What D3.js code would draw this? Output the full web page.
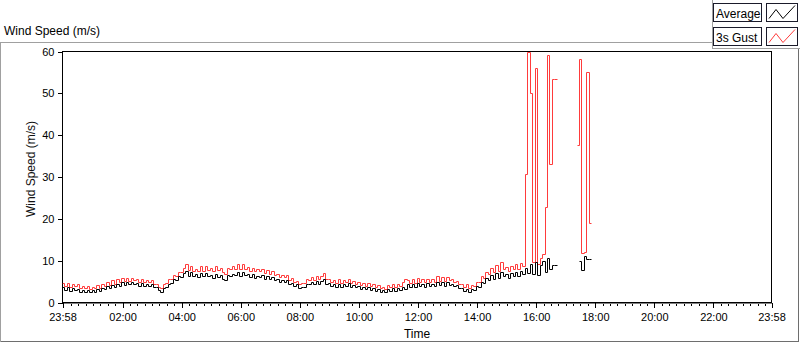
<!DOCTYPE html>
<html><head><meta charset="utf-8">
<script src="https://cdn.jsdelivr.net/npm/d3@7"></script>
<style>
body{margin:0;background:#fff}
svg{display:block;font-family:"Liberation Sans",Arial,sans-serif}
</style>
</head><body>
<svg id="chart" width="800" height="342"></svg>
<script>
// ---------- data ----------
const chartTitle = "Wind Speed (m/s)";
const yAxisTitle = "Wind Speed (m/s)";
const xAxisTitle = "Time";
const seriesNames = ["Average", "3s Gust"];
const seriesColors = ["#000000", "#ff3b3b"];
const sampleMinutes = 5;            // logger interval, first sample at 23:58
const yTicks = [0, 10, 20, 30, 40, 50, 60];
const xTickLabels = ["23:58","02:00","04:00","06:00","08:00","10:00","12:00","14:00","16:00","18:00","20:00","22:00","23:58"];

const avgSpeed = [
 3.6,2.9,3.5,2.7,3.3,2.8,3.1,2.4,2.9,2.5,
 2.9,2.3,2.8,2.5,3.1,2.6,3.3,3.0,3.9,3.3,
 4.1,3.5,4.3,3.9,4.7,4.0,4.8,4.2,4.7,4.3,
 4.5,3.9,4.6,3.8,4.4,3.9,4.3,3.6,3.5,2.9,
 2.5,3.4,3.6,4.4,4.5,5.4,5.2,6.1,6.0,7.0,
 7.4,6.3,7.1,6.2,6.6,5.9,6.9,6.1,7.0,6.2,
 6.5,5.8,6.7,6.0,6.5,5.6,5.3,6.5,6.2,6.8,
 6.4,7.1,6.3,7.2,6.4,6.7,6.0,6.6,5.8,6.3,
 5.9,6.4,5.6,6.2,5.5,6.0,5.2,5.6,4.9,5.3,
 4.8,5.2,4.3,4.6,3.8,4.2,3.4,3.7,3.6,4.3,
 4.3,4.8,4.2,5.0,4.4,5.1,5.4,4.4,4.6,3.9,
 4.3,3.7,4.4,3.6,4.3,3.9,4.5,3.6,4.1,3.5,
 3.8,3.2,3.6,3.0,3.6,2.9,3.4,2.7,3.1,2.5,
 2.8,2.4,3.1,2.6,3.3,2.7,3.4,2.9,3.6,3.1,
 4.2,3.5,4.4,3.6,4.6,3.8,4.3,3.7,4.5,3.9,
 4.3,3.8,4.7,4.0,4.8,3.9,4.7,4.1,4.3,3.8,
 4.0,3.3,3.4,2.6,3.2,2.5,3.1,2.9,3.9,3.7,
 4.9,4.6,5.8,5.3,6.4,5.6,6.9,5.8,7.1,6.1,
 6.6,5.8,6.9,6.1,7.2,6.3,7.4,6.6,8.2,7.0,
 9.0,6.8,9.6,6.5,8.8,9.9,7.2,10.4,7.8,8.9,
 8.9,8.9,null,null,null,null,null,null,null,null,
 9.7,7.7,11.0,10.3,10.3,10.3,null
];

const gustSpeed = [
 4.6,3.8,4.5,3.6,4.3,3.9,4.2,3.3,3.9,3.4,
 3.8,3.2,3.7,3.3,4.1,3.4,4.3,3.8,4.8,4.1,
 5.2,4.4,5.4,4.8,5.7,5.0,5.8,5.1,5.7,5.2,
 5.5,4.8,5.5,4.7,5.3,4.8,5.2,4.4,4.4,3.7,
 3.4,4.3,4.6,5.4,5.5,6.4,6.3,7.2,7.1,8.1,
 9.0,7.6,8.6,7.5,8.0,7.3,8.5,7.4,8.6,7.6,
 8.1,7.3,8.6,7.6,8.2,7.1,6.8,8.1,7.9,8.6,
 8.0,9.0,7.9,9.1,8.0,8.3,7.5,8.2,7.3,7.8,
 7.3,7.8,6.9,7.6,6.8,7.3,6.4,6.8,6.0,6.5,
 5.9,6.4,5.3,5.7,4.7,5.1,4.3,4.6,4.6,5.4,
 5.3,5.9,5.2,6.1,5.4,6.2,7.0,5.4,5.6,4.8,
 5.3,4.6,5.4,4.5,5.3,4.8,5.5,4.5,5.1,4.4,
 4.8,4.1,4.6,3.9,4.6,3.8,4.4,3.6,4.1,3.3,
 3.7,3.2,4.1,3.5,4.3,3.6,4.4,3.8,4.7,5.6,
 5.2,4.5,5.5,4.6,5.8,4.8,5.4,4.7,5.6,4.9,
 5.4,4.9,6.3,5.1,6.0,5.0,5.9,5.2,5.4,4.8,
 5.0,4.2,4.4,3.5,4.2,3.3,4.0,3.8,4.9,4.8,
 6.1,5.8,7.2,6.7,8.2,7.2,8.8,7.4,9.6,7.9,
 8.3,7.4,8.6,7.8,9.0,8.0,9.4,8.5,30.5,59.8,
 50.0,9.5,56.0,9.0,10.5,11.5,22.6,59.1,33.0,53.4,
 53.4,53.4,null,null,null,null,null,null,null,37.6,
 58.1,11.7,12.0,54.9,19.0,19.0,null
];

// ---------- layout ----------
const svg = d3.select("#chart");
const plot = {left: 62.5, right: 771.5, top: 51.5, bottom: 302.5};
const t0 = new Date(2000, 0, 1, 23, 58);
const t1 = d3.timeHour.offset(t0, 24);
const tickDates = xTickLabels.map((l, i) => {
  if (i === 0) return t0;
  if (i === xTickLabels.length - 1) return t1;
  const [h, m] = l.split(":").map(Number);
  return new Date(2000, 0, 2, h, m);
});
const sampleTime = i => d3.timeMinute.offset(t0, i * sampleMinutes);

const x = d3.scaleTime().domain([t0, t1]).range([plot.left, plot.right]);
const y = d3.scaleLinear().domain([0, 60]).range([plot.bottom, plot.top]);
const px = v => Math.round(v - 0.5) + 0.5;   // snap to pixel centres

// outer panel frame
const g0 = svg.append("g").attr("fill", "none").attr("shape-rendering", "crispEdges");
g0.append("path").attr("d", "M0.5,341.5 V42.5 H712.5").attr("stroke", "#a0a0a0");
g0.append("path").attr("d", "M0.5,341.5 H798.5 V48.5").attr("stroke", "#6e6e6e");
g0.append("path").attr("d", "M712.5,0 V48.5 H800").attr("stroke", "#a0a0a0");

// title
svg.append("text").attr("x", 4).attr("y", 35).attr("font-size", 12).attr("fill", "#000").text(chartTitle);

// plot background and frame
svg.append("rect").attr("x", plot.left).attr("y", plot.top)
  .attr("width", plot.right - plot.left).attr("height", plot.bottom - plot.top)
  .attr("fill", "#fff").attr("stroke", "#000").attr("shape-rendering", "crispEdges");

// y axis
const yAxis = svg.append("g").attr("transform", `translate(${plot.left},0)`)
  .call(d3.axisLeft(y).tickValues(yTicks).tickSize(5).tickPadding(3).tickFormat(d3.format("d")));
yAxis.select(".domain").remove();
yAxis.selectAll("line").attr("stroke", "#000").attr("shape-rendering", "crispEdges");
yAxis.selectAll("text").attr("font-size", 11).attr("fill", "#000")
  .attr("font-family", "'Liberation Sans',Arial,sans-serif");

// x minor ticks
const minor = d3.timeMinute.every(15).range(t0, t1)
  .filter(d => tickDates.every(t => Math.abs(d - t) > 5 * 60000));
const xMinor = svg.append("g").attr("transform", `translate(0,${plot.bottom})`)
  .call(d3.axisBottom(x).tickValues(minor).tickSize(3).tickFormat(""));
xMinor.select(".domain").remove();
xMinor.selectAll("line").attr("stroke", "#000").attr("shape-rendering", "crispEdges");

// x major ticks
const xAxis = svg.append("g").attr("transform", `translate(0,${plot.bottom})`)
  .call(d3.axisBottom(x).tickValues(tickDates).tickSize(5).tickPadding(6)
    .tickFormat((d, i) => xTickLabels[i]));
xAxis.select(".domain").attr("stroke", "#808080").attr("shape-rendering", "crispEdges");
xAxis.selectAll("line").attr("stroke", "#000").attr("shape-rendering", "crispEdges");
xAxis.selectAll("text").attr("font-size", 11).attr("fill", "#000")
  .attr("font-family", "'Liberation Sans',Arial,sans-serif");

// axis titles
svg.append("text").attr("transform", "translate(35,169) rotate(-90)")
  .attr("text-anchor", "middle").attr("font-size", 12).attr("fill", "#111").text(yAxisTitle);
svg.append("text").attr("x", (plot.left + plot.right) / 2).attr("y", 338)
  .attr("text-anchor", "middle").attr("font-size", 12).attr("fill", "#000").text(xAxisTitle);

// series
svg.append("clipPath").attr("id", "pc").append("rect")
  .attr("x", plot.left).attr("y", plot.top - 1).attr("width", plot.right - plot.left).attr("height", plot.bottom - plot.top + 1);
const line = d3.line()
  .defined(d => d != null)
  .x((d, i) => px(x(sampleTime(i))))
  .y(d => px(y(d)))
  .curve(d3.curveStepAfter);
const series = [avgSpeed, gustSpeed];
const gLines = svg.append("g").attr("clip-path", "url(#pc)");
[1, 0].forEach(k => {
  gLines.append("path").datum(series[k])
    .attr("d", line).attr("fill", "none")
    .attr("stroke", seriesColors[k]).attr("stroke-width", 1);
});

// legend
const leg = svg.append("g");
const swatch = d3.line();
seriesNames.forEach((name, k) => {
  const top = 3.5 + k * 24;
  leg.append("rect").attr("x", 713.5).attr("y", top).attr("width", 48).attr("height", 18)
    .attr("fill", "#fff").attr("stroke", "#1a1a2a").attr("shape-rendering", "crispEdges");
  leg.append("text").attr("x", 716).attr("y", top + 14).attr("font-size", 12).attr("fill", "#000").text(name);
  leg.append("rect").attr("x", 766.5).attr("y", top).attr("width", 31).attr("height", 18)
    .attr("fill", "#fff").attr("stroke", "#1a1a2a").attr("shape-rendering", "crispEdges");
  leg.append("path").attr("d", swatch([[769, top + 15], [776, top + 6], [783, top + 15], [795, top + 2]]))
    .attr("fill", "none").attr("stroke", seriesColors[k]).attr("stroke-width", 1);
});
</script>
</body></html>
